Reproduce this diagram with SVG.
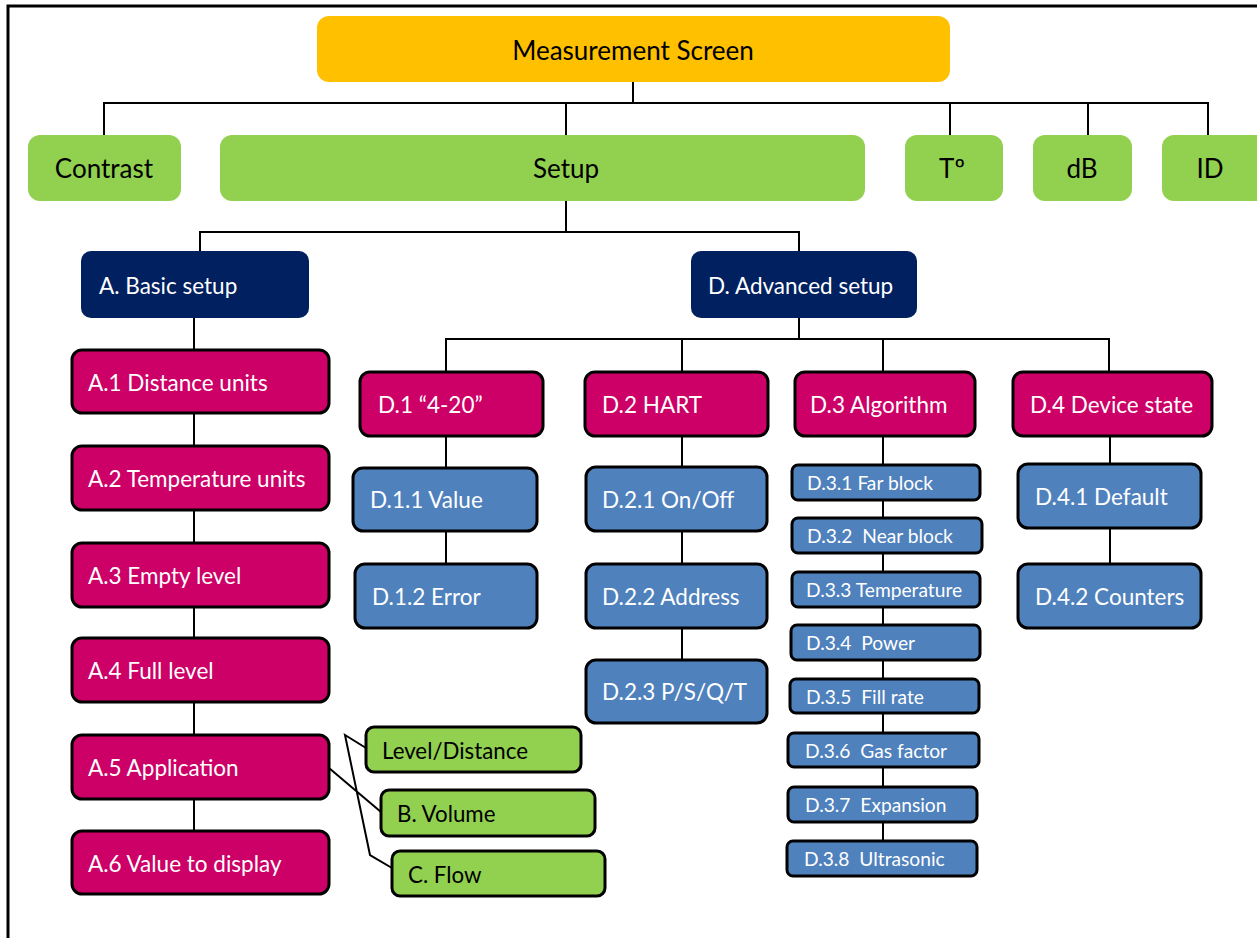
<svg xmlns="http://www.w3.org/2000/svg" width="1257" height="938" viewBox="0 0 1257 938">
<style>
text{font-family:Lato,"Liberation Sans",sans-serif;dominant-baseline:central;white-space:pre}
.top{fill:#FFC000}
.g{fill:#92D050}
.gs{fill:#92D050;stroke:#000;stroke-width:3}
.n{fill:#002060}
.m{fill:#CC0066;stroke:#000;stroke-width:3}
.b{fill:#4F81BD;stroke:#000;stroke-width:3}
.tb{fill:#000;font-size:26px}
.tw{fill:#fff;font-size:22.5px}
.tk{fill:#000;font-size:22.3px}
.ts{fill:#fff;font-size:19.2px}
.c{fill:none;stroke:#000;stroke-width:2}
</style>
<rect width="1257" height="938" fill="#fff"/>
<path d="M8,938 V6 H1257" fill="none" stroke="#000" stroke-width="3"/>
<g id="connectors" class="c">
<path d="M633,82 V103 M104,135 V103 H1208 V135 M566,103 V135 M950,103 V135 M1088,103 V135"/>
<path d="M566,201 V232 M200,251 V232 H799 V251"/>
<path d="M194,318 V831"/>
<path d="M799,318 V339 M446,372 V339 H1109 V372 M682,339 V372 M883,339 V372"/>
<path d="M446,436 V564"/>
<path d="M682,436 V660"/>
<path d="M883,436 V841"/>
<path d="M1110,436 V564"/>
<path d="M366,748 L345,735 L370,855 L392,868 M329,768 L381,812"/>
</g>
<g id="measurement"><rect class="top" x="317" y="16" width="633" height="66" rx="12"/><text class="tb" x="633" y="50" text-anchor="middle">Measurement Screen</text></g>
<g id="contrast"><rect class="g" x="28" y="135" width="153" height="66" rx="12"/><text class="tb" x="104" y="168" text-anchor="middle">Contrast</text></g>
<g id="setup"><rect class="g" x="220" y="135" width="645" height="66" rx="12"/><text class="tb" x="566" y="168" text-anchor="middle">Setup</text></g>
<g id="temp"><rect class="g" x="905" y="135" width="98" height="66" rx="12"/><text class="tb" x="952" y="168" text-anchor="middle">Tº</text></g>
<g id="db"><rect class="g" x="1033" y="135" width="99" height="66" rx="12"/><text class="tb" x="1082" y="168" text-anchor="middle">dB</text></g>
<g id="id"><rect class="g" x="1162" y="135" width="110" height="66" rx="12"/><text class="tb" x="1210" y="168" text-anchor="middle">ID</text></g>
<g id="basic"><rect class="n" x="81" y="251" width="228" height="67" rx="10"/><text class="tw" x="99" y="285">A. Basic setup</text></g>
<g id="advanced"><rect class="n" x="691" y="251" width="226" height="67" rx="10"/><text class="tw" x="708" y="285">D. Advanced setup</text></g>
<g id="a1"><rect class="m" x="72" y="350" width="257" height="63" rx="10"/><text class="tw" x="88" y="382">A.1 Distance units</text></g>
<g id="a2"><rect class="m" x="72" y="446" width="257" height="64" rx="10"/><text class="tw" x="88" y="478">A.2 Temperature units</text></g>
<g id="a3"><rect class="m" x="72" y="543" width="257" height="64" rx="10"/><text class="tw" x="88" y="575">A.3 Empty level</text></g>
<g id="a4"><rect class="m" x="72" y="638" width="257" height="64" rx="10"/><text class="tw" x="88" y="670">A.4 Full level</text></g>
<g id="a5"><rect class="m" x="72" y="735" width="257" height="64" rx="10"/><text class="tw" x="88" y="767">A.5 Application</text></g>
<g id="a6"><rect class="m" x="72" y="831" width="257" height="63" rx="10"/><text class="tw" x="88" y="863">A.6 Value to display</text></g>
<g id="leveldist"><rect class="gs" x="366" y="727" width="215" height="45" rx="8"/><text class="tk" x="382" y="750">Level/Distance</text></g>
<g id="volume"><rect class="gs" x="381" y="790" width="214" height="46" rx="8"/><text class="tk" x="397" y="813">B. Volume</text></g>
<g id="flow"><rect class="gs" x="392" y="851" width="213" height="45" rx="8"/><text class="tk" x="408" y="874">C. Flow</text></g>
<g id="d1"><rect class="m" x="360" y="372" width="183" height="64" rx="10"/><text class="tw" x="378" y="404">D.1 “4-20”</text></g>
<g id="d2"><rect class="m" x="585" y="372" width="183" height="64" rx="10"/><text class="tw" x="602" y="404">D.2 HART</text></g>
<g id="d3"><rect class="m" x="795" y="372" width="180" height="64" rx="10"/><text class="tw" x="810" y="404">D.3 Algorithm</text></g>
<g id="d4"><rect class="m" x="1013" y="372" width="199" height="64" rx="10"/><text class="tw" x="1030" y="404">D.4 Device state</text></g>
<g id="d11"><rect class="b" x="353" y="468" width="184" height="63" rx="10"/><text class="tw" x="370" y="499">D.1.1 Value</text></g>
<g id="d12"><rect class="b" x="355" y="564" width="182" height="64" rx="10"/><text class="tw" x="372" y="596">D.1.2 Error</text></g>
<g id="d21"><rect class="b" x="586" y="467" width="181" height="64" rx="10"/><text class="tw" x="602" y="499">D.2.1 On/Off</text></g>
<g id="d22"><rect class="b" x="586" y="564" width="181" height="64" rx="10"/><text class="tw" x="602" y="596">D.2.2 Address</text></g>
<g id="d23"><rect class="b" x="586" y="660" width="181" height="63" rx="10"/><text class="tw" x="602" y="691">D.2.3 P/S/Q/T</text></g>
<g id="d41"><rect class="b" x="1018" y="464" width="183" height="64" rx="10"/><text class="tw" x="1035" y="496">D.4.1 Default</text></g>
<g id="d42"><rect class="b" x="1018" y="564" width="183" height="64" rx="10"/><text class="tw" x="1035" y="596">D.4.2 Counters</text></g>
<g id="d31"><rect class="b" x="792" y="465" width="188" height="35" rx="6"/><text class="ts" x="807" y="482">D.3.1 Far block</text></g>
<g id="d32"><rect class="b" x="792" y="518" width="190" height="35" rx="6"/><text class="ts" x="807" y="535">D.3.2  Near block</text></g>
<g id="d33"><rect class="b" x="792" y="572" width="188" height="35" rx="6"/><text class="ts" x="806" y="589" font-size="17.3">D.3.3 Temperature</text></g>
<g id="d34"><rect class="b" x="791" y="625" width="189" height="35" rx="6"/><text class="ts" x="806" y="642">D.3.4  Power</text></g>
<g id="d35"><rect class="b" x="790" y="679" width="189" height="34" rx="6"/><text class="ts" x="806" y="696">D.3.5  Fill rate</text></g>
<g id="d36"><rect class="b" x="788" y="733" width="191" height="34" rx="6"/><text class="ts" x="805" y="750">D.3.6  Gas factor</text></g>
<g id="d37"><rect class="b" x="788" y="787" width="189" height="35" rx="6"/><text class="ts" x="805" y="804">D.3.7  Expansion</text></g>
<g id="d38"><rect class="b" x="787" y="841" width="190" height="35" rx="6"/><text class="ts" x="804" y="858">D.3.8  Ultrasonic</text></g>
</svg>
